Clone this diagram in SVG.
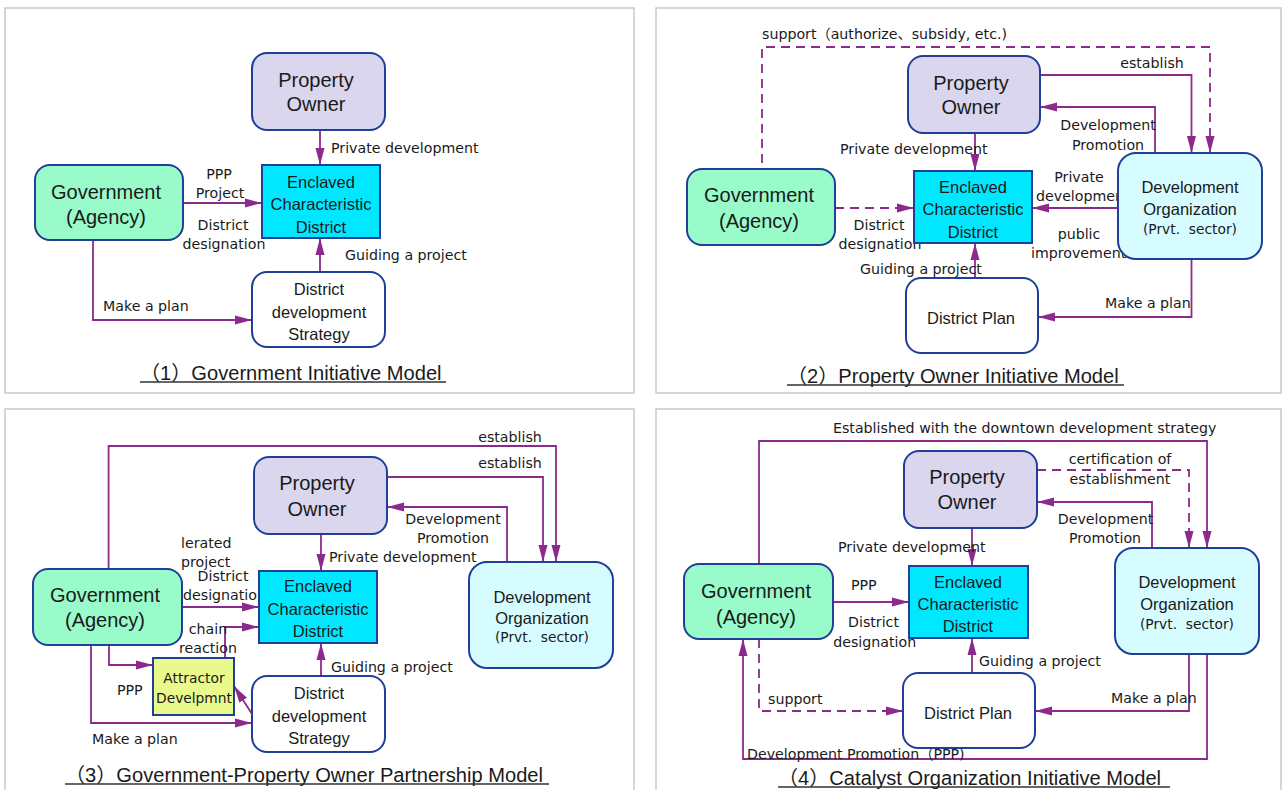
<svg xmlns="http://www.w3.org/2000/svg" width="1284" height="790" viewBox="0 0 1284 790">
<style>
.frame{fill:#fff;stroke:#c9cdcd;stroke-width:1.6}
.c{fill:none;stroke:#8b2a8c;stroke-width:1.8}
.d{stroke-dasharray:9 6}
.po{fill:#d9d6ee;stroke:#1f3f98;stroke-width:2}
.gov{fill:#98fbc9;stroke:#1f3f98;stroke-width:2}
.ecd{fill:#00e8ff;stroke:#1f3f98;stroke-width:2}
.wh{fill:#fff;stroke:#1f3f98;stroke-width:2}
.org{fill:#d6fcff;stroke:#1f3f98;stroke-width:2}
.att{fill:#e9f98c;stroke:#1f3f98;stroke-width:2}
text{dominant-baseline:central;fill:#1a1a1a}
.l{font-family:"DejaVu Sans","Noto Sans CJK JP",sans-serif;font-size:14.2px}
.m{text-anchor:middle}
.big{font-family:"Liberation Sans",sans-serif;font-size:20px;text-anchor:middle}
.mid{font-family:"Liberation Sans",sans-serif;font-size:16.5px;text-anchor:middle}
.sm{font-family:"DejaVu Sans",sans-serif;font-size:13.8px;text-anchor:middle}
.cap{font-family:"Liberation Sans","Noto Sans CJK JP",sans-serif;font-size:20.1px;dominant-baseline:alphabetic}
.ul{stroke:#333;stroke-width:1.3}
</style>
<defs>
<marker id="ah" markerUnits="userSpaceOnUse" markerWidth="18" markerHeight="11" refX="17" refY="5.5" orient="auto"><path d="M0,1 L17,5.5 L0,10 z" fill="#8b2a8c"/></marker>
</defs>
<rect width="1284" height="790" fill="#fff"/>
<g id="frames">
<rect class="frame" x="5" y="8" width="629" height="385"/>
<rect class="frame" x="656" y="8" width="625" height="385"/>
<rect class="frame" x="5" y="409" width="629" height="392"/>
<rect class="frame" x="656" y="409" width="625" height="392"/>
</g>
<g id="connectors" marker-end="url(#ah)">
<path class="c" d="M320,130 V165"/>
<path class="c" d="M183,203 H262"/>
<path class="c" d="M320,272 V238"/>
<path class="c" d="M93,240 V320 H252"/>
<path class="c d" d="M762,163 V47 H1210 V153"/>
<path class="c" d="M1040,75 H1191.5 V153"/>
<path class="c" d="M1155,153 V107 H1040"/>
<path class="c" d="M1118,208 H1032"/>
<path class="c" d="M975,133 V171"/>
<path class="c d" d="M835,208 H914"/>
<path class="c" d="M975,278 V243"/>
<path class="c" d="M1191.5,259 V317 H1038"/>
<path class="c" d="M108.6,569 V446 H556 V562"/>
<path class="c" d="M387,477 H543 V562"/>
<path class="c" d="M507,562 V507 H387"/>
<path class="c" d="M321,534 V571"/>
<path class="c" d="M182,607 H259"/>
<path class="c" d="M225,658 V627 H259"/>
<path class="c" d="M109,645 V665 H153"/>
<path class="c" d="M91,645 V723 H252"/>
<path class="c" d="M252.7,715 L234,686"/>
<path class="c" d="M321,676 V643"/>
<path class="c" d="M759,564 V441 H1207 V548"/>
<path class="c d" d="M1037,470 H1189 V548"/>
<path class="c" d="M1152,548 V502 H1037"/>
<path class="c" d="M972,528 V566"/>
<path class="c" d="M833,602 H909"/>
<path class="c" d="M972,673 V638"/>
<path class="c d" d="M759,639 V711 H903"/>
<path class="c" d="M1189,654 V711 H1035"/>
<path class="c" d="M1207,654 V759 H743 V639"/>
</g>
<g id="labels">
<text class="l" x="331" y="148">Private development</text>
<text class="l m" x="219" y="174">PPP</text>
<text class="l m" x="220" y="193">Project</text>
<text class="l m" x="223" y="225">District</text>
<text class="l m" x="224" y="244">designation</text>
<text class="l" x="345" y="255">Guiding a project</text>
<text class="l" x="103" y="306">Make a plan</text>
<text class="l" x="762" y="34">support（authorize、subsidy, etc.)</text>
<text class="l m" x="1152" y="63">establish</text>
<text class="l m" x="1108" y="125">Development</text>
<text class="l m" x="1108" y="145">Promotion</text>
<text class="l m" x="1079" y="177">Private</text>
<text class="l" x="1036" y="196">development</text>
<text class="l m" x="1079" y="234">public</text>
<text class="l" x="1031" y="253">improvement</text>
<text class="l" x="840" y="149">Private development</text>
<text class="l m" x="879" y="225">District</text>
<text class="l m" x="880" y="244">designation</text>
<text class="l" x="860" y="269">Guiding a project</text>
<text class="l" x="1105" y="303">Make a plan</text>
<text class="l m" x="510" y="437">establish</text>
<text class="l m" x="510" y="463">establish</text>
<text class="l m" x="453" y="519">Development</text>
<text class="l m" x="453" y="538">Promotion</text>
<text class="l" x="329" y="557">Private development</text>
<text class="l" x="181" y="543">lerated</text>
<text class="l" x="181" y="562">project</text>
<text class="l m" x="223" y="576">District</text>
<text class="l m" x="224.5" y="595">designation</text>
<text class="l m" x="208" y="629">chain</text>
<text class="l m" x="208" y="648">reaction</text>
<text class="l" x="117" y="690">PPP</text>
<text class="l" x="92" y="739">Make a plan</text>
<text class="l" x="331" y="667">Guiding a project</text>
<text class="l" x="833" y="428">Established with the downtown development strategy</text>
<text class="l m" x="1120" y="459">certification of</text>
<text class="l m" x="1120" y="479">establishment</text>
<text class="l m" x="1105.5" y="519">Development</text>
<text class="l m" x="1105" y="538">Promotion</text>
<text class="l" x="838" y="547">Private development</text>
<text class="l" x="851" y="585">PPP</text>
<text class="l m" x="873.5" y="622">District</text>
<text class="l m" x="874.7" y="642">designation</text>
<text class="l" x="979" y="661">Guiding a project</text>
<text class="l" x="768" y="699">support</text>
<text class="l" x="1111" y="698">Make a plan</text>
<text class="l" x="747" y="754">Development Promotion（PPP)</text>
</g>
<g id="p1-owner"><rect class="po" x="252" y="53" width="133" height="77" rx="15"/><text class="big" x="316" y="80">Property</text><text class="big" x="316" y="104">Owner</text></g>
<g id="p1-district"><rect class="ecd" x="262" y="165" width="118" height="73"/><text class="mid" x="321" y="182">Enclaved</text><text class="mid" x="321" y="204">Characteristic</text><text class="mid" x="321" y="227">District</text></g>
<g id="p1-gov"><rect class="gov" x="35" y="165" width="148" height="75" rx="15"/><text class="big" x="106" y="192">Government</text><text class="big" x="106" y="217">(Agency)</text></g>
<g id="p1-strategy"><rect class="wh" x="252" y="272" width="133" height="75" rx="15"/><text class="mid" x="319" y="289">District</text><text class="mid" x="319" y="312">development</text><text class="mid" x="319" y="334">Strategy</text></g>
<g id="p1-caption"><text class="cap" x="140" y="380">（1）Government Initiative Model</text><line class="ul" x1="140" y1="382" x2="446" y2="382"/></g>
<g id="p2-owner"><rect class="po" x="908" y="56" width="132" height="77" rx="15"/><text class="big" x="971" y="83">Property</text><text class="big" x="971" y="107">Owner</text></g>
<g id="p2-district"><rect class="ecd" x="914" y="171" width="118" height="72"/><text class="mid" x="973" y="187">Enclaved</text><text class="mid" x="973" y="209">Characteristic</text><text class="mid" x="973" y="232">District</text></g>
<g id="p2-gov"><rect class="gov" x="687" y="169" width="148" height="76" rx="15"/><text class="big" x="759" y="195">Government</text><text class="big" x="759" y="221">(Agency)</text></g>
<g id="p2-plan"><rect class="wh" x="906" y="278" width="132" height="75" rx="15"/><text class="mid" x="971" y="318">District Plan</text></g>
<g id="p2-org"><rect class="org" x="1118" y="153" width="144" height="106" rx="18"/><text class="mid" x="1190" y="187">Development</text><text class="mid" x="1190" y="209">Organization</text><text class="sm" x="1190" y="229" xml:space="preserve">(Prvt.  sector)</text></g>
<g id="p2-caption"><text class="cap" x="787" y="383">（2）Property Owner Initiative Model</text><line class="ul" x1="787" y1="385" x2="1124" y2="385"/></g>
<g id="p3-owner"><rect class="po" x="254" y="457" width="133" height="77" rx="15"/><text class="big" x="317" y="483">Property</text><text class="big" x="317" y="509">Owner</text></g>
<g id="p3-district"><rect class="ecd" x="259" y="571" width="118" height="72"/><text class="mid" x="318" y="586">Enclaved</text><text class="mid" x="318" y="609">Characteristic</text><text class="mid" x="318" y="631">District</text></g>
<g id="p3-gov"><rect class="gov" x="33" y="569" width="149" height="76" rx="15"/><text class="big" x="105" y="595">Government</text><text class="big" x="105" y="620">(Agency)</text></g>
<g id="p3-strategy"><rect class="wh" x="252" y="676" width="133" height="76" rx="15"/><text class="mid" x="319" y="693">District</text><text class="mid" x="319" y="716">development</text><text class="mid" x="319" y="738">Strategy</text></g>
<g id="p3-attractor"><rect class="att" x="153" y="658" width="81" height="57"/><text class="sm" x="194" y="678">Attractor</text><text class="sm" x="194" y="698">Develpmnt</text></g>
<g id="p3-org"><rect class="org" x="469" y="562" width="144" height="106" rx="18"/><text class="mid" x="542" y="597">Development</text><text class="mid" x="542" y="618">Organization</text><text class="sm" x="542" y="637" xml:space="preserve">(Prvt.  sector)</text></g>
<g id="p3-caption"><text class="cap" x="65" y="782">（3）Government-Property Owner Partnership Model</text><line class="ul" x1="65" y1="784" x2="549" y2="784"/></g>
<g id="p4-owner"><rect class="po" x="904" y="451" width="133" height="77" rx="15"/><text class="big" x="967" y="477">Property</text><text class="big" x="967" y="502">Owner</text></g>
<g id="p4-district"><rect class="ecd" x="909" y="566" width="119" height="72"/><text class="mid" x="968" y="582">Enclaved</text><text class="mid" x="968" y="604">Characteristic</text><text class="mid" x="968" y="626">District</text></g>
<g id="p4-gov"><rect class="gov" x="684" y="564" width="149" height="75" rx="15"/><text class="big" x="756" y="591">Government</text><text class="big" x="756" y="617">(Agency)</text></g>
<g id="p4-plan"><rect class="wh" x="903" y="673" width="132" height="75" rx="15"/><text class="mid" x="968" y="713">District Plan</text></g>
<g id="p4-org"><rect class="org" x="1115" y="548" width="144" height="106" rx="18"/><text class="mid" x="1187" y="582">Development</text><text class="mid" x="1187" y="604">Organization</text><text class="sm" x="1187" y="624" xml:space="preserve">(Prvt.  sector)</text></g>
<g id="p4-caption"><text class="cap" x="778" y="785">（4）Catalyst Organization Initiative Model</text><line class="ul" x1="778" y1="787" x2="1170" y2="787"/></g>
</svg>
